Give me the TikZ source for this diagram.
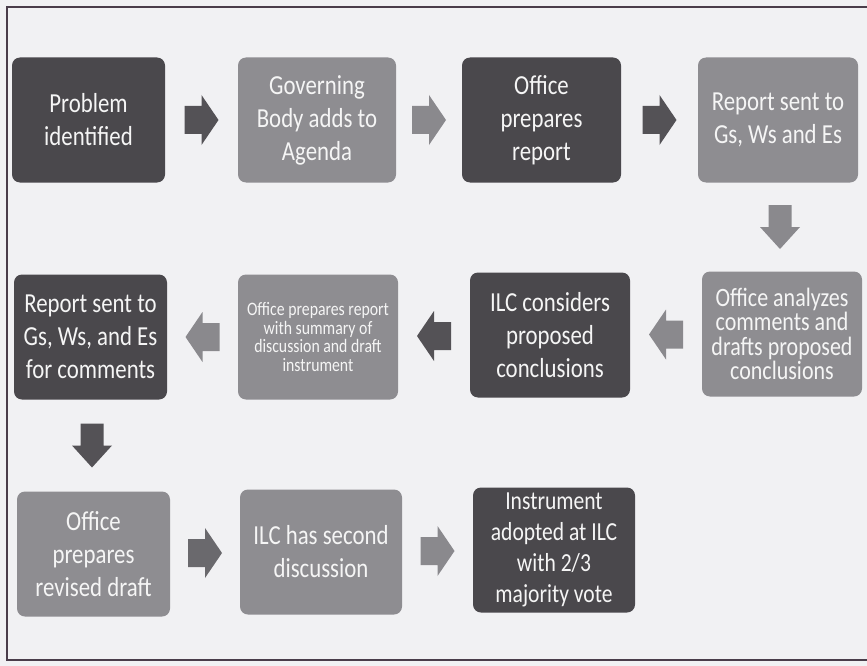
\documentclass[tikz,border=0pt]{standalone}
\usepackage{fontspec}
\newfontfamily\boxfont{Carlito}[FakeStretch=0.83]
\usetikzlibrary{calc}
\definecolor{boxdark}{HTML}{4A484C}
\definecolor{boxmid}{HTML}{8E8D91}
\definecolor{arrdark}{HTML}{545256}
\definecolor{arrmid}{HTML}{8A898D}
\definecolor{arrmiddark}{HTML}{6A696D}
\definecolor{bgcol}{HTML}{F1F1F3}
\definecolor{framecol}{HTML}{4A3D4A}
\begin{document}
\begin{tikzpicture}[x=1pt,y=-1pt,
  box/.style={rectangle, rounded corners=8pt, minimum width=158pt, minimum height=125pt,
    inner sep=2pt, align=center, text=white!96!black,
    font=\boxfont\fontsize{27.5}{33}\selectfont},
  darkbox/.style={box, fill=boxdark},
  midbox/.style={box, fill=boxmid},
  harr/.pic={\fill (-17,-14) -- (0,-14) -- (0,-25) -- (17,0) -- (0,25) -- (0,14) -- (-17,14) -- cycle;},
  varr/.pic={\fill (-11.5,-22) -- (11.5,-22) -- (11.5,0) -- (20,0) -- (0,22) -- (-20,0) -- (-11.5,0) -- cycle;}
]
\useasboundingbox (0,0) rectangle (867,666);
\fill[bgcol] (0,0) rectangle (867,666);
\draw[framecol, line width=2pt] (867,7) -- (7,7) -- (7,660) -- (867,660);

% row 1
\node[darkbox, minimum width=153pt] (b1) at (88.5,120) {Problem\\identified};
\node[midbox] (b2) at (317,120) {Governing\\Body adds to\\Agenda};
\node[darkbox, minimum width=159pt] (b3) at (541.5,120) {Office\\prepares\\report};
\node[midbox, minimum width=160pt] (b4) at (778,120) {Report sent to\\Gs, Ws and Es};
% row 2
\node[midbox, minimum width=160pt, font=\boxfont\fontsize{26.5}{24.5}\selectfont] (b5) at (782,334) {Office analyzes\\comments and\\drafts proposed\\conclusions};
\node[darkbox, minimum width=160pt] (b6) at (550,335) {ILC considers\\proposed\\conclusions};
\node[midbox, minimum width=160pt, font=\boxfont\fontsize{19}{18.5}\selectfont] (b7) at (318,337) {Office prepares report\\with summary of\\discussion and draft\\instrument};
\node[darkbox, minimum width=153pt] (b8) at (90.5,337) {Report sent to\\Gs, Ws, and Es\\for comments};
% row 3
\node[midbox, minimum width=153pt] (b9) at (93.5,554) {Office\\prepares\\revised draft};
\node[midbox, minimum width=162pt] (b10) at (321,552) {ILC has second\\discussion};
\node[darkbox, minimum width=162pt, font=\boxfont\fontsize{26}{31}\selectfont] (b11) at (554,550) {Instrument\\adopted at ILC\\with 2/3\\majority vote};

% connectors
\pic[color=arrdark] at ($(b1.east)!0.5!(b2.west)$) {harr};
\pic[color=arrmid] at ($(b2.east)!0.5!(b3.west)$) {harr};
\pic[color=arrdark] at ($(b3.east)!0.5!(b4.west)$) {harr};
\pic[color=arrmid] at ($(b4.south)!0.5!(b5.north)$) {varr};
\pic[color=arrmid, rotate=180] at ($(b5.west)!0.5!(b6.east)$) {harr};
\pic[color=arrdark, rotate=180] at ($(b6.west)!0.5!(b7.east)$) {harr};
\pic[color=arrmid, rotate=180] at ($(b7.west)!0.5!(b8.east)$) {harr};
\pic[color=arrdark] at ($(b8.south)!0.5!(b9.north)$) {varr};
\pic[color=arrmiddark] at ($(b9.east)!0.5!(b10.west)$) {harr};
\pic[color=arrmid] at ($(b10.east)!0.5!(b11.west)$) {harr};
\end{tikzpicture}
\end{document}
